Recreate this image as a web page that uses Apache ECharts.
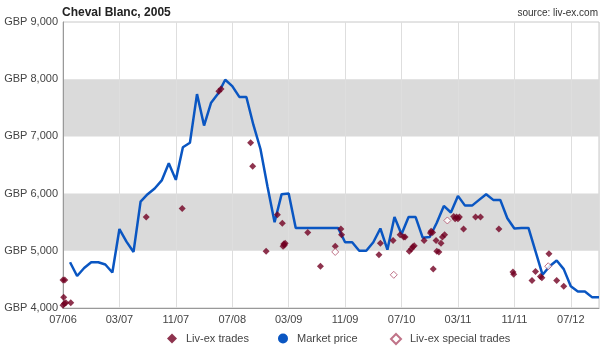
<!DOCTYPE html>
<html>
<head>
<meta charset="utf-8">
<script src="https://cdn.jsdelivr.net/npm/echarts@6/dist/echarts.min.js"></script>
<style>
html,body{margin:0;padding:0;background:#fff;}
#chart{width:606px;height:356px;}
</style>
</head>
<body>
<div id="chart"></div>
<script>
// x values are months since 07/2006
var xTickLabels = ['07/06','03/07','11/07','07/08','03/09','11/09','07/10','03/11','11/11','07/12'];

var marketMonths = [1,2,3,4,5,6,7,8,9,10,11,12,13,14,15,16,17,18,19,20,21,22,23,24,25,26,27,28,29,30,31,32,33,34,35,36,37,38,39,40,41,42,43,44,45,46,47,48,49,50,51,52,53,54,55,56,57,58,59,60,61,62,63,64,65,66,67,68,69,70,71,72,73,74,75,76];
var marketPrice = [4800,4560,4700,4800,4800,4760,4620,5380,5160,4980,5860,5990,6090,6230,6530,6240,6810,6890,7740,7190,7590,7750,7990,7880,7690,7690,7200,6780,6120,5500,5990,6000,5400,5400,5400,5400,5400,5400,5400,5150,5150,5000,5000,5150,5390,5020,5590,5290,5590,5590,5230,5240,5490,5785,5670,5960,5790,5790,5890,5990,5890,5890,5570,5390,5400,5400,4990,4580,4730,4830,4680,4380,4290,4290,4190,4190];

var tradeMonths = [0,0.2,0.4,1.1,0.1,0,0.25,11.8,16.9,22.1,22.4,26.6,26.9,28.8,30.4,31.1,31.2,31.3,31.4,31.5,34.7,36.5,38.6,39.4,39.5,44.8,45,46.8,47.8,48.3,48.5,49.1,49.4,49.6,49.8,51.2,52.1,52.2,52.4,52.5,52.9,53.0,53.3,53.6,53.8,54.1,55.4,55.6,55.8,56.0,56.2,56.8,58.5,59.2,61.8,63.8,63.9,66.5,67,67.7,67.9,68.9,70,71];
var tradeValues = [4050,4080,4090,4090,4190,4490,4490,5590,5740,7790,7830,6890,6480,4990,5630,5480,5080,5120,5100,5130,5320,4730,5080,5380,5280,4930,5130,5180,5280,5240,5240,4990,5030,5070,5090,5180,5310,5340,5320,4680,5180,4990,4980,5130,5240,5280,5600,5560,5590,5560,5590,5380,5590,5590,5380,4630,4590,4480,4640,4550,4530,4950,4480,4380];

var specialMonths = [38.6,46.9,54.5,68.8];
var specialValues = [4980,4580,5530,4730];

function zip(a,b){var r=[];for(var i=0;i<a.length;i++)r.push([a[i],b[i]]);return r;}

var FONT = '"Liberation Sans", Arial, sans-serif';
var legendText = {fontFamily:FONT,fontSize:11,color:'#444',padding:[0,0,0,4]};
var chart = echarts.init(document.getElementById('chart'), null, {renderer:'canvas'});
chart.setOption({
  animation:false,
  backgroundColor:'#fff',
  title:[
    {text:'Cheval Blanc, 2005', left:57, top:2, textStyle:{fontFamily:FONT,fontSize:12,fontWeight:'bold',color:'#222'}},
    {text:'source: liv-ex.com', right:3, top:3, textStyle:{fontFamily:FONT,fontSize:10,fontWeight:'normal',color:'#333'}}
  ],
  grid:{left:63,right:7,top:22,bottom:48,show:true,borderColor:'#c8c8c8',borderWidth:1,containLabel:false},
  xAxis:{
    type:'value', min:0, max:76, interval:8,
    axisLine:{show:true,lineStyle:{color:'#999',width:1}},
    axisTick:{show:false},
    axisLabel:{margin:6,fontFamily:FONT,fontSize:11,color:'#444',showMaxLabel:false,
      formatter:function(v){var i=Math.round(v/8);return xTickLabels[i]||'';}},
    splitLine:{show:true,lineStyle:{color:'#dedede',width:1}}
  },
  yAxis:{
    type:'value', min:4000, max:9000, interval:1000,
    axisLine:{show:true,lineStyle:{color:'#999',width:1}},
    axisTick:{show:false},
    axisLabel:{margin:5,fontFamily:FONT,fontSize:11,color:'#444',
      formatter:function(v){return 'GBP '+v.toLocaleString('en-US');}},
    splitLine:{show:false},
    splitArea:{show:true,areaStyle:{color:['rgba(255,255,255,0)','#dadada']}}
  },
  legend:[
    {data:[{name:'Liv-ex trades',icon:'diamond'}],left:167,top:333,padding:0,itemWidth:10,itemHeight:10,textStyle:legendText},
    {data:[{name:'Market price',icon:'circle'}],left:278,top:333,padding:0,itemWidth:10,itemHeight:10,textStyle:legendText},
    {data:[{name:'Liv-ex special trades',icon:'diamond'}],left:390,top:333,padding:0,itemWidth:10,itemHeight:10,textStyle:legendText}
  ],
  series:[
    {name:'Market price',type:'line',data:zip(marketMonths,marketPrice),showSymbol:false,symbol:'circle',
      lineStyle:{color:'#0a56c2',width:2.5},itemStyle:{color:'#0a56c2'},z:2},
    {name:'Liv-ex trades',type:'scatter',data:zip(tradeMonths,tradeValues),symbol:'diamond',symbolSize:7,
      itemStyle:{color:'#720022'},z:3},
    {name:'Liv-ex special trades',type:'scatter',data:zip(specialMonths,specialValues),symbol:'diamond',symbolSize:7,
      itemStyle:{color:'#ffffff',borderColor:'#b0506a',borderWidth:1},z:3}
  ]
});
</script>
</body>
</html>
